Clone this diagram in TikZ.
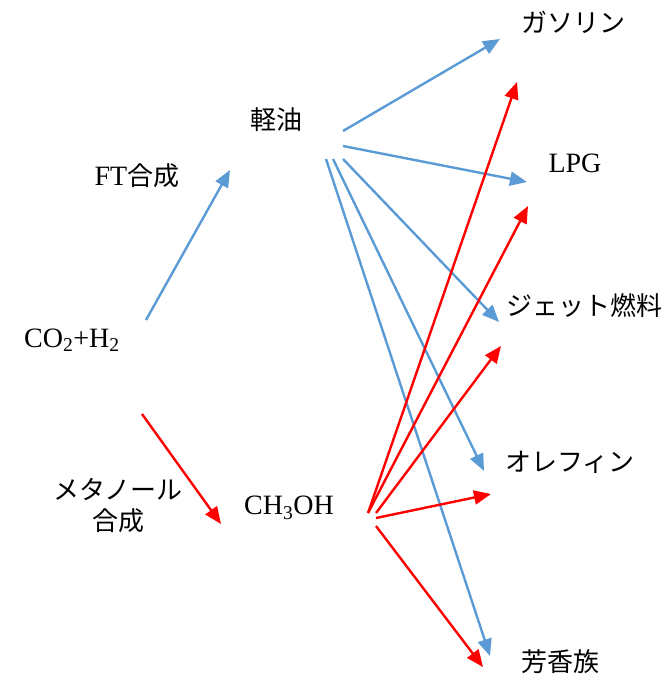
\documentclass[tikz,border=0pt]{standalone}
\usepackage{fontspec}
\setmainfont{Liberation Serif}
\newfontfamily\jp{Noto Sans CJK JP}
\newcommand\ja[1]{{\fontsize{26}{31}\selectfont\jp #1}}
\usetikzlibrary{arrows.meta}
\definecolor{fuelblue}{HTML}{5B9BD5}
\definecolor{fuelred}{HTML}{FF0000}

\begin{document}
\begin{tikzpicture}[x=1pt, y=-1pt,
      lbl/.style={font=\fontsize{28}{31}\selectfont, inner sep=0pt, align=center},
      ftline/.style={draw=fuelblue, line width=2.4pt, -{Triangle[length=17pt, width=14pt]}},
      meline/.style={draw=fuelred, line width=2.4pt, -{Triangle[length=17pt, width=14pt]}}]

      \useasboundingbox (0,0) rectangle (671,676);

      \node[lbl] (co2) at (72,340) {CO\textsubscript{2}+H\textsubscript{2}};
      \node[lbl] (ftsyn) at (137,176) {FT\ja{合成}};
      \node[lbl] (mesyn) at (118,506) {\ja{メタノール}\\\ja{合成}};
      \node[lbl] (keiyu) at (276,120) {\ja{軽油}};
      \node[lbl] (meoh) at (289,508) {CH\textsubscript{3}OH};
      \node[lbl] (gas) at (573,22) {\ja{ガソリン}};
      \node[lbl] (lpg) at (575,163) {LPG};
      \node[lbl] (jet) at (584,306) {\ja{ジェット燃料}};
      \node[lbl] (olef) at (570,462) {\ja{オレフィン}};
      \node[lbl] (arom) at (560,662) {\ja{芳香族}};

      % Arrow ends
      \coordinate (co2-ft) at (146,320);
      \coordinate (keiyu-in) at (230,170);
      \coordinate (co2-me) at (142,414);
      \coordinate (meoh-in) at (221,524);
      \coordinate (keiyu-gas) at (343,131);
      \coordinate (keiyu-lpg) at (343,146);
      \coordinate (keiyu-jet) at (343,159);
      \coordinate (keiyu-olef) at (333,159);
      \coordinate (keiyu-arom) at (326,159);
      \coordinate (meoh-up) at (368,513);
      \coordinate (meoh-jet) at (376,513);
      \coordinate (meoh-olef) at (376,518);
      \coordinate (meoh-arom) at (376,526);
      \coordinate (gas-ft) at (500,39);
      \coordinate (gas-me) at (517,82);
      \coordinate (lpg-ft) at (527,182);
      \coordinate (lpg-me) at (528,206);
      \coordinate (jet-ft) at (499,322);
      \coordinate (jet-me) at (501,346);
      \coordinate (olef-ft) at (484,471);
      \coordinate (olef-me) at (491,494);
      \coordinate (arom-ft) at (490,656);
      \coordinate (arom-me) at (483,667);

      % FT route
      \draw[ftline] (co2-ft) -- (keiyu-in);
      \draw[ftline] (keiyu-gas) -- (gas-ft);
      \draw[ftline] (keiyu-lpg) -- (lpg-ft);
      \draw[ftline] (keiyu-jet) -- (jet-ft);
      \draw[ftline] (keiyu-olef) -- (olef-ft);
      \draw[ftline] (keiyu-arom) -- (arom-ft);

      % Methanol route
      \draw[meline] (co2-me) -- (meoh-in);
      \draw[meline] (meoh-up) -- (gas-me);
      \draw[meline] (meoh-up) -- (lpg-me);
      \draw[meline] (meoh-jet) -- (jet-me);
      \draw[meline] (meoh-olef) -- (olef-me);
      \draw[meline] (meoh-arom) -- (arom-me);
    \end{tikzpicture}
\end{document}
